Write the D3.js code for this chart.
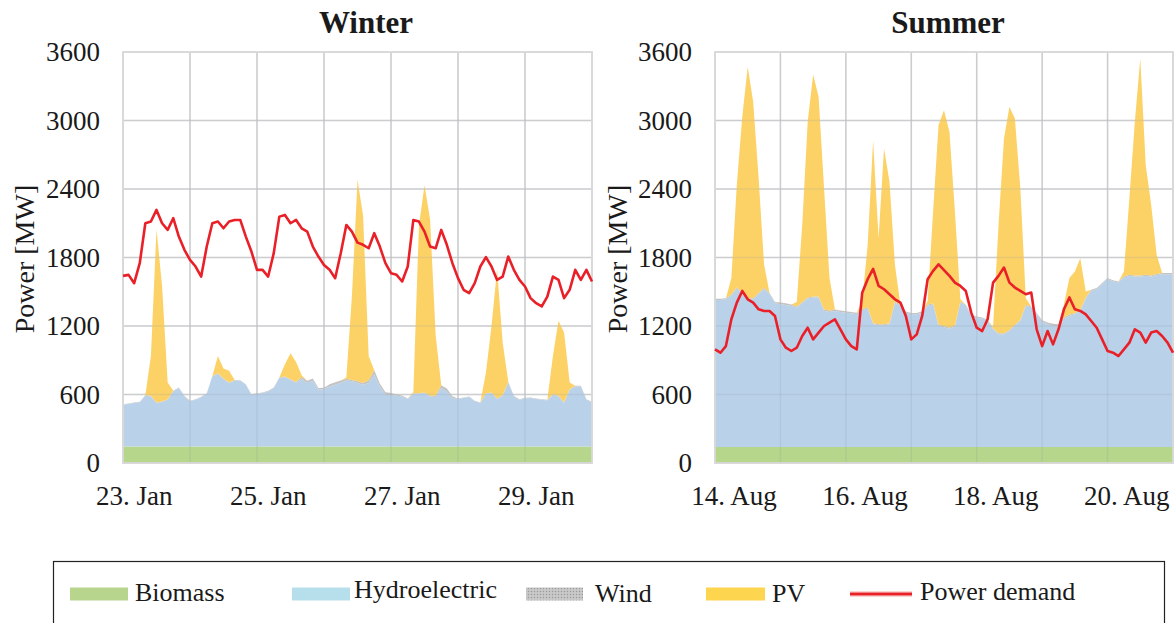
<!DOCTYPE html>
<html><head><meta charset="utf-8">
<script src="https://cdn.jsdelivr.net/npm/d3@7"></script>
<style>
html,body{margin:0;padding:0;background:#fff;}
svg text{font-family:"Liberation Serif","Times New Roman",serif;fill:#1a1a1a;}
</style></head>
<body>
<svg id="chart" width="1174" height="623"></svg>
<script>
// ---------- DATA (2-hour steps, hour 0..168) ----------
const hours = d3.range(0, 169, 2);
const yTicks = [0, 600, 1200, 1800, 2400, 3000, 3600];
const legendLabels = ["Biomass", "Hydroelectric", "Wind", "PV", "Power demand"];

// Winter (23 Jan – 29 Jan)
const winterTitle = "Winter";
const winterDayLabels = ["23. Jan", "25. Jan", "27. Jan", "29. Jan"];
const winterBiomass = [145,145,145,145,145,145,145,145,145,145,145,145,145,145,145,145,145,145,145,145,145,145,145,145,145,145,145,145,145,145,145,145,145,145,145,145,145,145,145,145,145,145,145,145,145,145,145,145,145,145,145,145,145,145,145,145,145,145,145,145,145,145,145,145,145,145,145,145,145,145,145,145,145,145,145,145,145,145,145,145,145,145,145,145,145];
const winterHydro = [365,371,380,386,444,438,380,389,409,482,511,438,395,409,430,462,613,637,590,555,578,575,540,453,462,468,482,511,599,608,584,555,590,555,578,497,503,526,540,555,578,570,555,
 540,555,628,526,453,453,444,438,415,462,462,468,438,433,511,482,424,415,424,433,395,380,462,468,415,444,561,438,409,421,424,415,409,403,453,438,380,497,526,526,409,386];
const winterWind = [5,5,5,5,5,5,5,5,5,5,5,5,5,5,5,5,5,5,5,5,5,5,5,5,5,5,5,5,5,5,5,10,18,20,18,15,12,18,22,22,15,12,15,
 15,25,40,25,22,15,10,8,5,5,5,5,5,10,25,25,15,5,5,5,5,5,5,5,5,5,5,5,5,5,5,5,5,5,5,5,5,5,5,5,5,5];
const winterPV = [0,0,0,0,0,350,1517,1012,146,0,0,0,0,0,0,0,0,151,88,102,0,0,0,0,0,0,0,0,0,107,228,175,15,0,0,0,0,0,0,0,10,733,1765,
 1468,213,0,0,0,0,0,0,0,10,1464,1814,1546,530,0,0,0,0,0,0,0,0,180,583,1130,461,0,0,0,0,0,0,0,0,335,657,613,58,0,0,0,0];
const winterDemand = [1639,1648,1575,1750,2100,2115,2217,2100,2042,2144,1983,1867,1779,1721,1633,1896,2100,2115,2056,2115,2129,2129,1983,1852,1692,1692,1633,1838,2158,2173,2100,2129,2056,2027,1896,1808,1735,1692,1619,1838,2085,2027,1930,
 1911,1881,2013,1896,1750,1663,1648,1590,1721,2129,2115,2027,1896,1881,2042,1911,1750,1619,1517,1488,1575,1721,1803,1721,1604,1633,1808,1692,1604,1546,1444,1400,1371,1458,1633,1604,1444,1517,1692,1604,1692,1590];

// Summer (14 Aug – 20 Aug)
const summerTitle = "Summer";
const summerDayLabels = ["14. Aug", "16. Aug", "18. Aug", "20. Aug"];
const summerBiomass = [140,140,140,140,140,140,140,140,140,140,140,140,140,140,140,140,140,140,140,140,140,140,140,140,140,140,140,140,140,140,140,140,140,140,140,140,140,140,140,140,140,140,140,140,140,140,140,140,140,140,140,140,140,140,140,140,140,140,140,140,140,140,140,140,140,140,140,140,140,140,140,140,140,140,140,140,140,140,140,140,140,140,140,140,140];
const summerHydro = [1288,1288,1294,1324,1388,1338,1294,1294,1338,1382,1338,1259,1250,1244,1236,1221,1259,1300,1309,1309,1192,1183,1192,1183,1177,1171,1162,1198,1212,1075,1066,1066,1075,1265,1236,1177,1162,1162,1177,1236,1250,1060,1050,
 1037,1054,1265,1236,1148,1133,1125,1104,1031,987,987,1016,1060,1104,1236,1221,1162,1095,1075,1060,1054,1119,1148,1162,1192,1300,1367,1382,1426,1471,1451,1440,1485,1499,1493,1493,1499,1493,1505,1514,1514,1514];
const summerWind = [10,10,10,12,12,10,10,10,12,12,10,12,15,15,12,10,10,10,10,10,12,12,12,12,12,12,15,12,10,10,10,10,10,10,10,10,12,12,12,12,10,10,10,
 10,10,10,10,10,10,10,10,10,10,10,10,10,10,10,10,12,15,15,20,22,15,12,10,10,10,10,10,10,10,10,10,10,10,10,10,10,10,10,10,10,10];
const summerPV = [0,0,0,145,897,1545,2026,1720,1006,204,0,0,0,0,0,40,676,1539,1944,1749,1064,286,0,0,0,0,0,67,549,1600,753,1540,1239,321,0,0,0,0,0,30,802,1750,1890,
 1715,998,20,0,0,0,0,0,10,948,1706,1954,1808,1152,58,0,0,0,0,0,0,117,321,365,452,52,0,0,0,0,0,0,42,669,1346,1900,961,617,168,0,0,0];
const summerDemand = [995,966,1024,1259,1405,1507,1434,1405,1346,1332,1332,1288,1083,1010,981,1010,1112,1185,1083,1142,1200,1229,1259,1171,1083,1024,995,1492,1610,1700,1551,1522,1478,1434,1405,1288,1083,1127,1288,1610,1683,1740,1690,
 1639,1580,1551,1507,1317,1185,1156,1259,1580,1639,1712,1580,1537,1507,1478,1493,1171,1024,1156,1039,1171,1346,1450,1346,1332,1302,1244,1185,1083,981,966,937,995,1054,1171,1142,1054,1142,1156,1112,1054,966];

// ---------- DRAWING ----------
const colors = {biomass:"#b5d68b", hydro:"#b9d2ea", wind:"#c4c4c4", pv:"#fcd267", demand:"#ea2029", grid:"#d9d9d9"};
const svg = d3.select("#chart");

const defs = svg.append("defs");
const pat = defs.append("pattern").attr("id","windPat").attr("width",3).attr("height",3).attr("patternUnits","userSpaceOnUse");
pat.append("rect").attr("width",3).attr("height",3).attr("fill","#c2c2c2");
pat.append("rect").attr("width",1).attr("height",1).attr("fill","#999");
pat.append("rect").attr("x",1.5).attr("y",1.5).attr("width",1).attr("height",1).attr("fill","#e0e0e0");

const panels = [
  {title:winterTitle, labels:winterDayLabels, biomass:winterBiomass, hydro:winterHydro, wind:winterWind, pv:winterPV, demand:winterDemand,
   left:123, right:592, titleX:366, tickX:100, ylabX:34, labelShift:4},
  {title:summerTitle, labels:summerDayLabels, biomass:summerBiomass, hydro:summerHydro, wind:summerWind, pv:summerPV, demand:summerDemand,
   left:715, right:1173, titleX:948, tickX:692, ylabX:627, labelShift:7}
];
const plotTop = 52, plotBottom = 463;

panels.forEach((p, pi) => {
  const x = d3.scaleLinear().domain([0,168]).range([p.left, p.right]);
  const y = d3.scaleLinear().domain([0,3600]).range([plotBottom, plotTop]);
  const g = svg.append("g");

  const clipId = "clip" + pi;
  defs.append("clipPath").attr("id", clipId).append("rect")
    .attr("x", p.left).attr("y", plotTop).attr("width", p.right - p.left).attr("height", plotBottom - plotTop);

  const dayTicks = d3.range(0, 169, 24);
  const grid = g.append("g");
  grid.selectAll("line.h").data(yTicks).join("line")
    .attr("x1", p.left).attr("x2", p.right).attr("y1", d => y(d)).attr("y2", d => y(d))
    .attr("stroke", colors.grid).attr("stroke-width", 1.6);
  grid.selectAll("line.v").data(dayTicks).join("line")
    .attr("y1", plotTop).attr("y2", plotBottom).attr("x1", d => x(d)).attr("x2", d => x(d))
    .attr("stroke", colors.grid).attr("stroke-width", 1.6);

  const rows = hours.map((h, i) => ({h, biomass:p.biomass[i], hydro:p.hydro[i], wind:p.wind[i], pv:p.pv[i]}));
  const keys = ["biomass","hydro","wind","pv"];
  const series = d3.stack().keys(keys)(rows);
  const area = d3.area().x(d => x(d.data.h)).y0(d => y(d[0])).y1(d => y(d[1]));
  g.append("g").attr("clip-path", `url(#${clipId})`)
    .selectAll("path").data(series).join("path")
    .attr("d", area).attr("fill", d => colors[d.key]);

  const grid2 = g.append("g").attr("stroke", "rgba(140,150,160,0.18)").attr("stroke-width", 1.4);
  grid2.selectAll("line.h").data(yTicks.slice(1, -1)).join("line")
    .attr("x1", p.left).attr("x2", p.right).attr("y1", d => y(d)).attr("y2", d => y(d));
  grid2.selectAll("line.v").data(dayTicks.slice(1, -1)).join("line")
    .attr("y1", plotTop).attr("y2", plotBottom).attr("x1", d => x(d)).attr("x2", d => x(d));
  g.append("rect").attr("x", p.left).attr("y", plotTop).attr("width", p.right - p.left).attr("height", plotBottom - plotTop)
    .attr("fill", "none").attr("stroke", colors.grid).attr("stroke-width", 1.8);

  const line = d3.line().x((d, i) => x(hours[i])).y(d => y(d));
  g.append("path").datum(p.demand).attr("d", line)
    .attr("fill", "none").attr("stroke", colors.demand).attr("stroke-width", 2.6).attr("stroke-linejoin", "round");

  g.selectAll("text.yt").data(yTicks).join("text")
    .attr("x", p.tickX).attr("y", d => y(d)).attr("dy", "0.34em")
    .attr("text-anchor", "end").attr("font-size", 27).text(d => d);

  g.selectAll("text.xt").data(p.labels).join("text")
    .attr("x", (d, i) => x(i * 48 + p.labelShift)).attr("y", 505)
    .attr("text-anchor", "middle").attr("font-size", 27).text(d => d);

  g.append("text").attr("x", p.titleX).attr("y", 33).attr("text-anchor", "middle")
    .attr("font-size", 31).attr("font-weight", "bold").text(p.title);

  g.append("text").attr("transform", `translate(${p.ylabX},259) rotate(-90)`)
    .attr("text-anchor", "middle").attr("font-size", 28).text("Power [MW]");
});

// ---------- LEGEND ----------
const lg = svg.append("g");
lg.append("rect").attr("x", 53.5).attr("y", 561.5).attr("width", 1111).attr("height", 90)
  .attr("fill", "none").attr("stroke", "#222").attr("stroke-width", 1.2);
const legendItems = [
  {label:legendLabels[0], type:"rect", fill:"#b7d58d", sx:70, sw:58, tx:135, ty:601},
  {label:legendLabels[1], type:"rect", fill:"#b7dfeb", sx:292, sw:58, tx:354, ty:598},
  {label:legendLabels[2], type:"rect", fill:"url(#windPat)", sx:526, sw:57, tx:595, ty:602},
  {label:legendLabels[3], type:"rect", fill:"#fed54f", sx:706, sw:59, tx:772, ty:602},
  {label:legendLabels[4], type:"line", fill:colors.demand, sx:850, sw:62, tx:920, ty:600}
];
legendItems.forEach(it => {
  if (it.type === "rect") {
    lg.append("rect").attr("x", it.sx).attr("y", 587.5).attr("width", it.sw).attr("height", 13).attr("fill", it.fill);
  } else {
    lg.append("line").attr("x1", it.sx).attr("x2", it.sx + it.sw).attr("y1", 594).attr("y2", 594)
      .attr("stroke", "#f4a5a5").attr("stroke-width", 5);
    lg.append("line").attr("x1", it.sx).attr("x2", it.sx + it.sw).attr("y1", 594).attr("y2", 594)
      .attr("stroke", it.fill).attr("stroke-width", 2.4);
  }
  lg.append("text").attr("x", it.tx).attr("y", it.ty).attr("font-size", 26).text(it.label);
});
</script>
</body></html>
